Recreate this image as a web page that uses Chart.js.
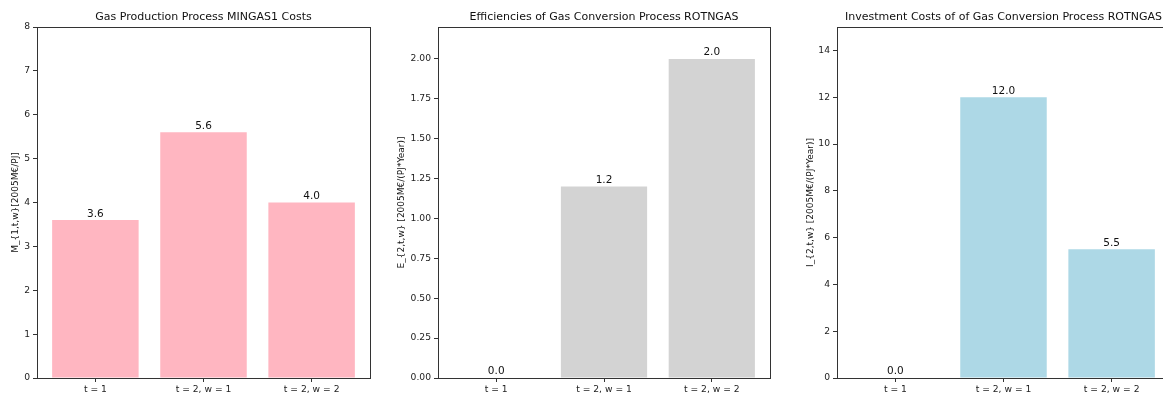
<!DOCTYPE html>
<html>
<head>
<meta charset="utf-8">
<script src="https://cdn.jsdelivr.net/npm/chart.js@4"></script>
<style>
  html, body { margin: 0; padding: 0; background: #fff; overflow: hidden; width: 1163px; height: 394px; }
  .box { position: absolute; top: 0; height: 394px; }
</style>
</head>
<body>
<div class="box" style="left:0px;width:390px"><canvas id="c1"></canvas></div>
<div class="box" style="left:390px;width:400px"><canvas id="c2"></canvas></div>
<div class="box" style="left:790px;width:400px"><canvas id="c3"></canvas></div>
<script>
// categories and values
const categories = ["t = 1", "t = 2, w = 1", "t = 2, w = 2"];
const xPos = [0, 1, 2];
const mingasCosts = [3.6, 5.6, 4.0];
const rotngasEff = [0.0, 1.2, 2.0];
const rotngasInv = [0.0, 12.0, 5.5];

const FONT = "'DejaVu Sans', sans-serif";

// draws the title, y label, the axes box and the value labels
const decor = {
  id: "decor",
  afterDatasetsDraw(chart, args, opts) {
    const ctx = chart.ctx;
    const a = chart.chartArea;
    ctx.save();
    // box
    ctx.strokeStyle = "#333";
    ctx.lineWidth = 1;
    ctx.strokeRect(Math.round(a.left) + 0.5, Math.round(a.top) + 0.5, Math.round(a.right - a.left), Math.round(a.bottom - a.top));
    // title
    ctx.fillStyle = "#111";
    ctx.font = "11px " + FONT;
    ctx.textAlign = "center";
    ctx.textBaseline = "middle";
    ctx.fillText(opts.title, (a.left + a.right) / 2, 17);
    // y label
    ctx.font = "9px " + FONT;
    ctx.save();
    ctx.translate(opts.ylabelX, (a.top + a.bottom) / 2);
    ctx.rotate(-Math.PI / 2);
    ctx.fillText(opts.ylabel, 0, 0);
    ctx.restore();
    // bar values
    ctx.font = "10.5px " + FONT;
    ctx.textBaseline = "bottom";
    const meta = chart.getDatasetMeta(0);
    meta.data.forEach((bar, i) => {
      const v = chart.data.datasets[0].data[i].y;
      ctx.fillText(v.toFixed(1), bar.x, bar.y - 1);
    });
    ctx.restore();
  }
};

function makeChart(id, values, color, yMax, yStep, yFmt, yAxisWidth, title, ylabel, ylabelX) {
  return new Chart(document.getElementById(id), {
    type: "bar",
    data: {
      datasets: [{
        data: xPos.map((x, i) => ({ x: x, y: values[i] })),
        backgroundColor: color,
        borderWidth: 0,
        barPercentage: 0.8,
        categoryPercentage: 1.0
      }]
    },
    options: {
      responsive: true,
      maintainAspectRatio: false,
      animation: false,
      layout: { padding: { top: 27, right: 20, left: 0, bottom: 0 } },
      plugins: {
        legend: { display: false },
        tooltip: { enabled: false },
        decor: { title: title, ylabel: ylabel, ylabelX: ylabelX }
      },
      scales: {
        x: {
          type: "linear",
          min: -0.54,
          max: 2.54,
          offset: false,
          afterBuildTicks: (s) => { s.ticks = xPos.map(v => ({ value: v })); },
          afterFit: (s) => { s.height = 16; },
          ticks: {
            callback: (v) => categories[v],
            font: { family: FONT, size: 9.2 },
            color: "#222",
            padding: 2,
            maxRotation: 0
          },
          grid: { offset: false, drawOnChartArea: false, drawTicks: true, tickLength: 4, color: "#333" },
          border: { display: false }
        },
        y: {
          min: 0,
          max: yMax,
          afterFit: (s) => { s.width = yAxisWidth; },
          ticks: {
            stepSize: yStep,
            includeBounds: false,
            callback: yFmt,
            font: { family: FONT, size: 9.2 },
            color: "#222",
            padding: 3
          },
          grid: { drawOnChartArea: false, drawTicks: true, tickLength: 4, color: "#333" },
          border: { display: false }
        }
      }
    },
    plugins: [decor]
  });
}

makeChart("c1", mingasCosts, "#FFB6C1", 8, 1, (v) => v.toFixed(0), 37,
  "Gas Production Process MINGAS1 Costs", "M_{1,t,w}[2005M€/PJ]", 16);
makeChart("c2", rotngasEff, "#D3D3D3", 2.2, 0.25, (v) => v.toFixed(2), 48,
  "Efficiencies of Gas Conversion Process ROTNGAS", "E_{2,t,w} [2005M€/(PJ*Year)]", 12);
makeChart("c3", rotngasInv, "#ADD8E6", 15, 2, (v) => v.toFixed(0), 47,
  "Investment Costs of of Gas Conversion Process ROTNGAS", "I_{2,t,w} [2005M€/(PJ*Year)]", 21);
</script>
</body>
</html>
